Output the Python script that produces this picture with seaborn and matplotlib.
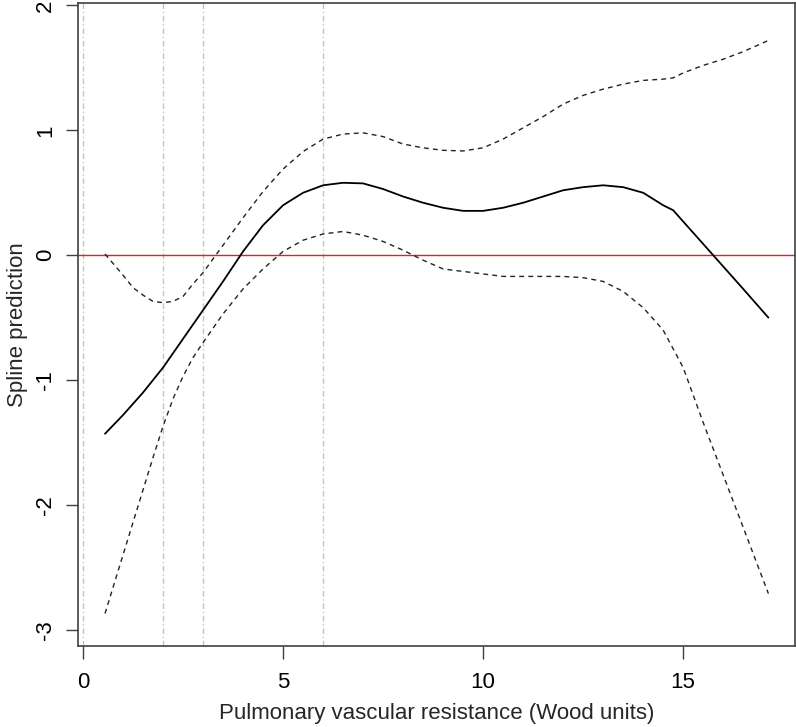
import numpy as np
import pandas as pd
import seaborn as sns
import matplotlib
matplotlib.use("Agg")
import matplotlib.pyplot as plt

# values
pvr = [0.55, 1.0, 1.25, 1.5, 1.75, 2.0, 2.25, 2.5, 2.75, 3.0, 3.5, 4.0, 4.5,
       5.0, 5.5, 6.0, 6.5, 7.0, 7.5, 8.0, 8.5, 9.0, 9.5, 10.0, 10.5, 11.0,
       11.5, 12.0, 12.5, 13.0, 13.5, 14.0, 14.5, 14.75, 15.0, 15.5, 16.0,
       16.5, 17.13]
fit = [-1.43, -1.28, -1.19, -1.10, -1.00, -0.90, -0.785, -0.67, -0.555, -0.44,
       -0.21, 0.03, 0.24, 0.40, 0.50, 0.56, 0.58, 0.575, 0.53, 0.47, 0.42,
       0.38, 0.355, 0.355, 0.38, 0.42, 0.47, 0.52, 0.545, 0.56, 0.545, 0.50,
       0.40, 0.36, 0.27, 0.09, -0.09, -0.27, -0.50]
upper = [0.01, -0.16, -0.26, -0.32, -0.37, -0.38, -0.37, -0.33, -0.23, -0.14,
         0.08, 0.30, 0.51, 0.69, 0.83, 0.93, 0.97, 0.98, 0.95, 0.89, 0.86,
         0.84, 0.835, 0.86, 0.93, 1.02, 1.11, 1.21, 1.28, 1.33, 1.37, 1.40,
         1.41, 1.42, 1.46, 1.52, 1.57, 1.63, 1.72]
lower = [-2.87, -2.40, -2.14, -1.88, -1.62, -1.37, -1.15, -0.97, -0.82, -0.70,
         -0.47, -0.27, -0.11, 0.03, 0.12, 0.17, 0.19, 0.16, 0.11, 0.04, -0.04,
         -0.11, -0.13, -0.15, -0.17, -0.17, -0.17, -0.17, -0.18, -0.21, -0.29,
         -0.42, -0.60, -0.75, -0.90, -1.34, -1.76, -2.18, -2.71]
cutoffs = [0, 2, 3, 6]
xticks = [0, 5, 10, 15]
yticks = [-3, -2, -1, 0, 1, 2]

df = pd.DataFrame({"pvr": pvr, "fit": fit, "upper": upper, "lower": lower})

sns.set_style("white")
plt.rcParams["font.family"] = ["Liberation Sans", "DejaVu Sans"]
plt.rcParams["axes.unicode_minus"] = False

fig = plt.figure(figsize=(7.96, 7.27), dpi=100)
ax = fig.add_axes([0.098, 0.1114, 0.901, 0.8845])

for c in cutoffs:
    ax.axvline(c, color="#c4c4c4", linewidth=1.0, linestyle=(0, (4, 2, 1, 2)), zorder=1)
ax.axhline(0, color="#e8201c", linewidth=1.0, zorder=2)

sns.lineplot(data=df, x="pvr", y="fit", ax=ax, color="black", linewidth=1.3,
             sort=False, zorder=3)
sns.lineplot(data=df, x="pvr", y="upper", ax=ax, color="#222222", linewidth=1.0,
             linestyle=(0, (3.5, 3)), sort=False, zorder=3)
sns.lineplot(data=df, x="pvr", y="lower", ax=ax, color="#222222", linewidth=1.0,
             linestyle=(0, (3.5, 3)), sort=False, zorder=3)

ax.set_xlim(-0.125, 17.8)
ax.set_ylim(-3.13, 2.02)
ax.set_xticks(xticks)
ax.set_xticklabels([str(t) for t in xticks])
ax.set_yticks(yticks)
ax.set_yticklabels([str(t) for t in yticks], rotation=90, va="center")

for s in ax.spines.values():
    s.set_color("#404040")
    s.set_linewidth(1.2)
ax.tick_params(axis="both", direction="out", length=9, width=1.0, color="#404040",
               labelsize=16, labelcolor="black", left=True, bottom=True)
ax.tick_params(axis="x", pad=10)
ax.tick_params(axis="y", pad=7)

ax.set_xlabel("Pulmonary vascular resistance (Wood units)", fontsize=16, labelpad=7)
ax.set_ylabel("Spline prediction", fontsize=16, labelpad=5)

fig.savefig("out.png", dpi=100)
